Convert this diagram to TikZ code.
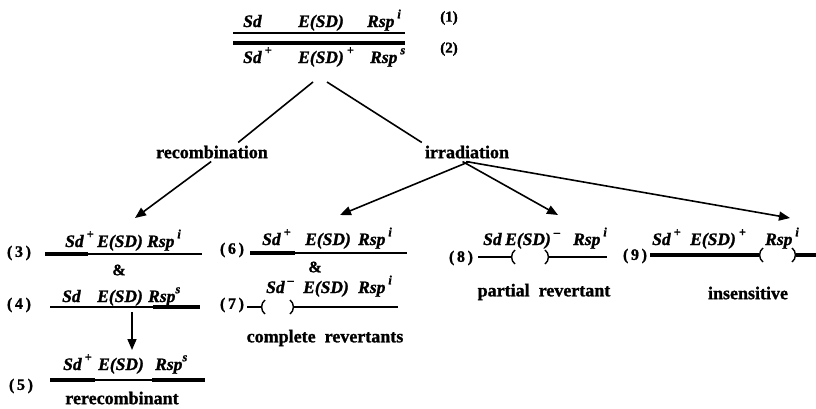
\documentclass[tikz,border=0pt]{standalone}
\usepackage{fontspec}
\setmainfont{Liberation Serif}[BoldFeatures={FakeBold=1.2}, BoldItalicFeatures={FakeBold=1.2}]
\usetikzlibrary{arrows.meta}
\newcommand{\gsup}[1]{\raisebox{0.5em}{\fontsize{12.5}{13}\selectfont #1}}
\tikzset{
  gene/.style={font=\fontsize{17.5}{19}\selectfont\bfseries\itshape, inner sep=0pt, anchor=base west},
  lbl/.style={font=\fontsize{18}{20}\selectfont\bfseries, inner sep=3pt},
  num/.style={font=\fontsize{16}{18}\selectfont\bfseries, inner sep=0pt},
  thinchr/.style={line width=1.3pt},
  thickchr/.style={line width=4.5pt},
  arr/.style={line width=1.6pt, -{Triangle[length=11pt,width=9pt]}},
  brk/.pic={\draw[line width=1.4pt] (3,-7) .. controls (-1.5,-4) and (-1.5,4) .. (3,7);}
}
\begin{document}
\begin{tikzpicture}[x=1pt,y=-1pt]
        \useasboundingbox (0,0) rectangle (816,408);
        % parental chromosomes
        \draw[thinchr] (233,33) -- (405,33);
        \draw[thickchr] (233,43) -- (405,43);
        \node[gene] (sd1) at (243,27) {Sd};
        \node[gene] (esd1) at (298,27) {E(SD)};
        \node[gene] (rsp1) at (367,27) {Rsp\,\gsup{i}};
        \node[num, font=\fontsize{15}{17}\selectfont\bfseries] (n1) at (449,18) {(1)};
        \node[gene] (sd2) at (243,63) {Sd\,\gsup{+}};
        \node[gene] (esd2) at (298,63) {E(SD)\,\gsup{+}};
        \node[gene] (rsp2) at (370,63) {Rsp\,\gsup{s}};
        \node[num, font=\fontsize{15}{17}\selectfont\bfseries] (n2) at (449,49) {(2)};
        % branches
        \node[lbl] (recomb) at (212,152) {recombination};
        \node[lbl] (irrad) at (467,152) {irradiation};
        \coordinate (forkL) at (313,82);
        \coordinate (forkR) at (327,82);
        \draw[line width=1.6pt] (forkL) -- (recomb.20);
        \draw[line width=1.6pt] (forkR) -- (irrad.north west);
        \coordinate (to3) at (135,218);
        \coordinate (to6) at (340,215);
        \coordinate (to8) at (558,215);
        \coordinate (to9) at (790,218);
        \draw[arr] (recomb.-95) -- (to3);
        \draw[arr] (irrad.-75) -- (to6);
        \draw[arr] (irrad.-115) -- (to8);
        \draw[arr] (irrad.-95) -- (to9);

        % recombinants
        \node[num] (n3) at (19,253) {(\,3\,)};
        \draw[thickchr] (45,254) -- (88,254);
        \draw[thinchr] (88,254) -- (202,254);
        \node[gene] (sd3) at (65,247) {Sd\,\gsup{+}};
        \node[gene] (esd3) at (97,247) {E(SD)};
        \node[gene] (rsp3) at (147,247) {Rsp\,\gsup{i}};
        \node[num] (and1) at (119,270) {\&};
        \node[num] (n4) at (19,305) {(\,4\,)};
        \draw[thinchr] (50,307) -- (153,307);
        \draw[thickchr] (153,307) -- (200,307);
        \node[gene] (sd4) at (62,302) {Sd};
        \node[gene] (esd4) at (97,302) {E(SD)};
        \node[gene] (rsp4) at (148,302) {Rsp\gsup{s}};
        \coordinate (from4) at (132,312);
        \coordinate (to5) at (132,350);
        \draw[arr] (from4) -- (to5);
        \node[num] (n5) at (21,386) {(\,5\,)};
        \draw[thickchr] (50,380) -- (95,380);
        \draw[thinchr] (95,380) -- (152,380);
        \draw[thickchr] (152,380) -- (205,380);
        \node[gene] (sd5) at (63,370) {Sd\,\gsup{+}};
        \node[gene] (esd5) at (98,370) {E(SD)};
        \node[gene] (rsp5) at (155,370) {Rsp\gsup{s}};
        \node[lbl] (rerec) at (122,398) {rerecombinant};

        % complete revertants
        \node[num] (n6) at (232,250) {(\,6\,)};
        \draw[thickchr] (250,253) -- (295,253);
        \draw[thinchr] (295,253) -- (407,253);
        \node[gene] (sd6) at (262,245) {Sd\,\gsup{+}};
        \node[gene] (esd6) at (305,245) {E(SD)};
        \node[gene] (rsp6) at (358,245) {Rsp\,\gsup{i}};
        \node[num] (and2) at (315,267) {\&};
        \node[num] (n7) at (232,305) {(\,7\,)};
        \draw[thinchr] (247,307) -- (261,307);
        \pic at (262,307) {brk};
        \pic[xscale=-1] at (293,307) {brk};
        \draw[thinchr] (294,307) -- (398,307);
        \node[gene] (sd7) at (266,293) {Sd\,\gsup{--}};
        \node[gene] (esd7) at (303,293) {E(SD)};
        \node[gene] (rsp7) at (358,293) {Rsp\,\gsup{i}};
        \node[lbl] (comp) at (325,338) {complete \ revertants};

        % partial revertant
        \node[num] (n8) at (461,258) {(\,8\,)};
        \draw[thinchr] (478,257) -- (511,257);
        \pic at (512,257) {brk};
        \pic[xscale=-1] at (548,257) {brk};
        \draw[thinchr] (549,257) -- (607,257);
        \node[gene] (sd8) at (483,245) {Sd};
        \node[gene] (esd8) at (505,245) {E(SD)\,\gsup{--}};
        \node[gene] (rsp8) at (573,245) {Rsp\,\gsup{i}};
        \node[lbl] (part) at (544,292) {partial \ revertant};

        % insensitive
        \node[num] (n9) at (635,256) {(\,9\,)};
        \draw[thickchr] (650,255) -- (759,255);
        \pic at (760,255) {brk};
        \pic[xscale=-1] at (795,255) {brk};
        \draw[thickchr] (796,255) -- (816,255);
        \node[gene] (sd9) at (652,245) {Sd\,\gsup{+}};
        \node[gene] (esd9) at (690,245) {E(SD)\,\gsup{+}};
        \node[gene] (rsp9) at (765,245) {Rsp\,\gsup{i}};
        \node[lbl] (insens) at (748,293) {insensitive};
\end{tikzpicture}
\end{document}
